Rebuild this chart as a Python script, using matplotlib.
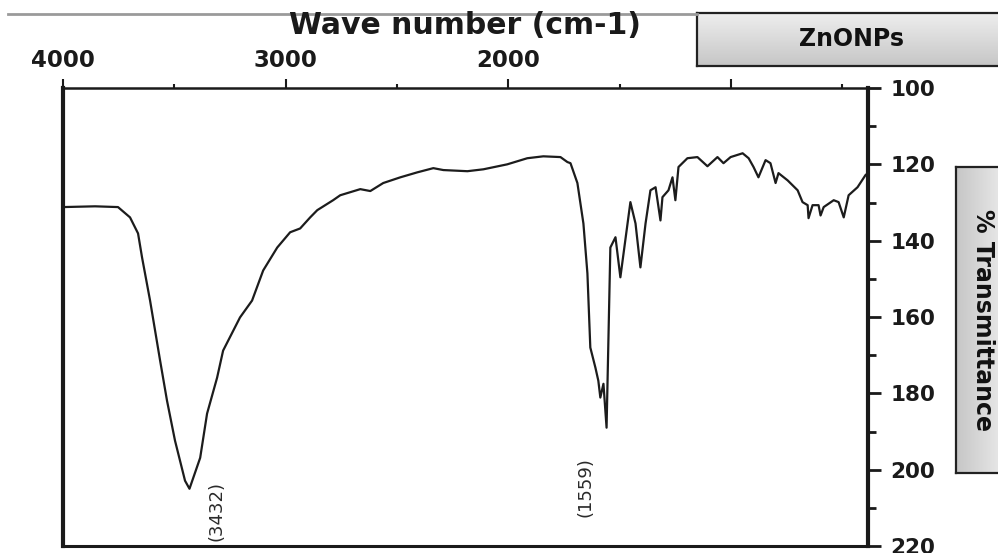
import numpy as np
import matplotlib
matplotlib.use("Agg")
import matplotlib.pyplot as plt
from matplotlib.ticker import FixedLocator
from matplotlib.lines import Line2D
from matplotlib.colors import LinearSegmentedColormap

# FTIR spectrum of ZnO nanoparticles (wavenumber in cm-1, % transmittance)
wavenumber = [4000, 3856, 3753, 3699, 3663, 3645, 3609, 3564, 3533, 3497,
              3452, 3432, 3384, 3353, 3308, 3281, 3205, 3151, 3101, 3038,
              2980, 2935, 2890, 2858, 2787, 2755, 2665, 2620, 2562, 2485,
              2409, 2337, 2292, 2184, 2112, 2005, 1915, 1843, 1766, 1735,
              1721, 1690, 1663, 1645, 1632, 1609, 1596, 1587, 1573, 1559,
              1542, 1519, 1497, 1452, 1429, 1407, 1384, 1362, 1339, 1317,
              1308, 1281, 1263, 1250, 1236, 1196, 1151, 1106, 1061, 1034,
              1002, 948, 921, 899, 877, 845, 823, 800, 787, 746,
              701, 679, 656, 652, 634, 607, 598, 584, 539, 517,
              494, 472, 432, 396, 385]
transmittance = [131.2, 131.0, 131.2, 133.9, 138.1, 144.4, 155.7, 171.4, 181.9, 192.4,
                 202.9, 205.0, 196.9, 185.3, 175.9, 168.8, 160.1, 155.7, 147.8, 141.8,
                 137.8, 136.8, 133.9, 132.0, 129.4, 128.1, 126.5, 127.0, 124.9, 123.4,
                 122.1, 121.0, 121.5, 121.8, 121.3, 120.0, 118.4, 117.9, 118.1, 119.4,
                 119.7, 124.9, 135.5, 148.6, 168.0, 173.3, 176.7, 181.1, 177.5, 189.0,
                 141.8, 139.1, 149.6, 129.9, 135.5, 147.0, 135.5, 126.8, 126.0, 134.7,
                 128.6, 126.8, 123.4, 129.4, 120.7, 118.4, 118.1, 120.5, 118.1, 119.7,
                 118.1, 117.1, 118.4, 120.7, 123.4, 118.9, 119.7, 124.9, 122.3, 124.2,
                 126.8, 129.9, 130.7, 134.1, 130.7, 130.7, 133.4, 131.2, 129.4, 129.9,
                 133.9, 128.1, 126.0, 122.8, 122.3]

peak_positions = [3432, 1559]
peak_labels = ["(3432)", "(1559)"]
peak_label_y = [210.8, 204.5]
peak_label_dx = [19.5, -15.0]

x_major = [4000, 3000, 2000, 1000]
x_minor = [3500, 2500, 1500, 500]
y_major = [100, 120, 140, 160, 180, 200, 220]
y_minor = [110, 130, 150, 170, 190, 210]

sample_name = "ZnONPs"
x_title = "Wave number (cm-1)"
y_title = "% Transmittance"

W, H = 998, 553
fig = plt.figure(figsize=(W / 100, H / 100), dpi=100)


def fx(px):
    return px / W


def fy(py):
    return 1 - py / H


ax = fig.add_axes([fx(63), fy(546), fx(868 - 63), (546 - 88) / H])
ax.plot(wavenumber, transmittance, color="#1c1c1c", lw=1.6, solid_joinstyle="round")
ax.set_xlim(4000, 385)
ax.set_ylim(220, 100)

# Wavenumber axis on top, transmittance axis on the right
ax.xaxis.tick_top()
ax.yaxis.tick_right()
ax.xaxis.set_major_locator(FixedLocator(x_major))
ax.xaxis.set_minor_locator(FixedLocator(x_minor))
ax.yaxis.set_major_locator(FixedLocator(y_major))
ax.yaxis.set_minor_locator(FixedLocator(y_minor))
ax.set_xticklabels([str(v) for v in x_major], fontsize=16.5, fontweight="bold",
                   color="#1a1a1a", family="DejaVu Sans")
ax.set_yticklabels([str(v) for v in y_major], fontsize=15.5, fontweight="bold",
                   color="#1a1a1a", family="DejaVu Sans")
ax.tick_params(axis="x", which="major", direction="out", length=6.5, width=1.5,
               pad=5, colors="#1a1a1a")
ax.tick_params(axis="x", which="minor", direction="out", length=3, width=1.5,
               colors="#1a1a1a")
ax.tick_params(axis="y", which="major", direction="out", length=9, width=2,
               pad=7, colors="#1a1a1a")
ax.tick_params(axis="y", which="minor", direction="out", length=6, width=2,
               colors="#1a1a1a")

for side, lw in [("left", 3.0), ("right", 3.0), ("top", 1.8), ("bottom", 2.2)]:
    ax.spines[side].set_linewidth(lw)
    ax.spines[side].set_color("#1a1a1a")

for pk, lab, ly, dx in zip(peak_positions, peak_labels, peak_label_y, peak_label_dx):
    ax.annotate(lab, xy=(pk, ly), xytext=(dx, 0), textcoords="offset points",
                rotation=90, ha="center", va="center", fontsize=13,
                color="#2a2a2a", family="DejaVu Sans", annotation_clip=False)

# Axis title above the top ticks
fig.text(fx(465), fy(25), x_title, ha="center", va="center", fontsize=21.5,
         fontweight="bold", color="#1a1a1a", family="DejaVu Sans")

# Thin rule along the top edge
fig.add_artist(Line2D([fx(8), fx(697)], [fy(14), fy(14)], color="#9a9a9a", lw=2))


def gradient_box(rect, text, rotation, vertical):
    bax = fig.add_axes(rect)
    cmap = LinearSegmentedColormap.from_list("g", ["#c6c6c6", "#eeeeee"])
    grad = np.linspace(0, 1, 256)
    img = grad[:, None] if vertical else grad[None, :]
    bax.imshow(img, cmap=cmap, aspect="auto", extent=[0, 1, 0, 1], origin="lower")
    bax.set_xlim(0, 1)
    bax.set_ylim(0, 1)
    bax.set_xticks([])
    bax.set_yticks([])
    for s in bax.spines.values():
        s.set_linewidth(1.6)
        s.set_color("#222222")
    bax.text(0.5, 0.5, text, ha="center", va="center", rotation=rotation,
             fontsize=17, fontweight="bold", color="#111111",
             family="DejaVu Sans", transform=bax.transAxes)
    return bax


gradient_box([fx(697), fy(66), fx(1007 - 697), (66 - 13) / H], sample_name, 0, True)
gradient_box([fx(956), fy(473), fx(1010 - 956), (473 - 167) / H], y_title, -90, False)

fig.savefig("out.png", dpi=100, facecolor="white")
